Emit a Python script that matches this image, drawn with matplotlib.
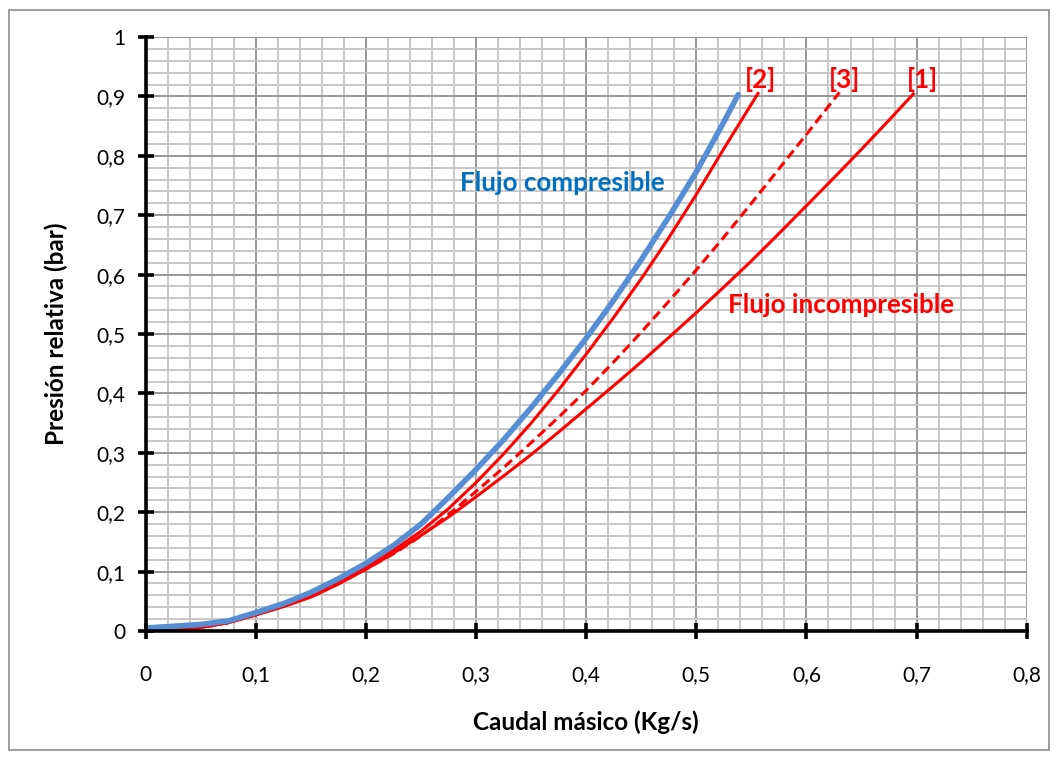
import matplotlib
matplotlib.use("Agg")
import matplotlib.pyplot as plt
from matplotlib.patches import Rectangle
from matplotlib.ticker import MultipleLocator

plt.rcParams['font.family'] = ['Lato', 'DejaVu Sans']

# Data (mass flow in kg/s, relative pressure in bar)
x_comp = [0, 0.025, 0.05, 0.075, 0.1, 0.125, 0.15, 0.175, 0.2, 0.225, 0.25, 0.275,
          0.3, 0.325, 0.35, 0.375, 0.4, 0.425, 0.45, 0.475, 0.5, 0.525, 0.538]
y_comp = [0.005, 0.008, 0.011, 0.017, 0.031, 0.046, 0.065, 0.088, 0.114, 0.144, 0.18, 0.225,
          0.272, 0.322, 0.376, 0.433, 0.493, 0.557, 0.625, 0.697, 0.773, 0.857, 0.903]

x_inc2 = [0, 0.025, 0.05, 0.075, 0.1, 0.125, 0.15, 0.175, 0.2, 0.225, 0.25, 0.275,
          0.3, 0.325, 0.35, 0.375, 0.4, 0.425, 0.45, 0.475, 0.5, 0.525, 0.55, 0.556]
y_inc2 = [0, 0.002, 0.006, 0.014, 0.028, 0.043, 0.062, 0.084, 0.108, 0.136, 0.168, 0.206,
          0.25, 0.298, 0.35, 0.406, 0.466, 0.528, 0.593, 0.662, 0.735, 0.812, 0.887, 0.905]

x_inc3 = [0, 0.025, 0.05, 0.075, 0.1, 0.125, 0.15, 0.175, 0.2, 0.225, 0.25, 0.275,
          0.3, 0.325, 0.35, 0.375, 0.4, 0.425, 0.45, 0.475, 0.5, 0.525, 0.55, 0.575, 0.6, 0.63]
y_inc3 = [0, 0.002, 0.006, 0.014, 0.027, 0.042, 0.059, 0.08, 0.104, 0.13, 0.16, 0.196,
          0.235, 0.275, 0.317, 0.36, 0.405, 0.453, 0.503, 0.555, 0.608, 0.663, 0.72, 0.778, 0.836, 0.907]

x_inc1 = [0, 0.025, 0.05, 0.075, 0.1, 0.125, 0.15, 0.175, 0.2, 0.225, 0.25, 0.275,
          0.3, 0.325, 0.35, 0.375, 0.4, 0.425, 0.45, 0.475, 0.5, 0.525, 0.55, 0.575,
          0.6, 0.625, 0.65, 0.675, 0.697]
y_inc1 = [0, 0.002, 0.006, 0.014, 0.027, 0.041, 0.057, 0.079, 0.104, 0.131, 0.161, 0.192,
          0.226, 0.261, 0.297, 0.335, 0.374, 0.413, 0.453, 0.494, 0.536, 0.579, 0.623, 0.669,
          0.716, 0.763, 0.811, 0.86, 0.904]

x_ticks = [0, 0.1, 0.2, 0.3, 0.4, 0.5, 0.6, 0.7, 0.8]
x_ticklabels = ["0", "0,1", "0,2", "0,3", "0,4", "0,5", "0,6", "0,7", "0,8"]
y_ticks = [0, 0.1, 0.2, 0.3, 0.4, 0.5, 0.6, 0.7, 0.8, 0.9, 1.0]
y_ticklabels = ["0", "0,1", "0,2", "0,3", "0,4", "0,5", "0,6", "0,7", "0,8", "0,9", "1"]

fig = plt.figure(figsize=(10.58, 7.6), dpi=100)
ax = fig.add_axes([145.7 / 1058, 1 - 631 / 760, (1026.7 - 145.7) / 1058, (631 - 37) / 760])

# outer chart border
fig.patches.append(Rectangle((9 / 1058, 10 / 760), (1049 - 9) / 1058, (750 - 10) / 760,
                             transform=fig.transFigure, fill=False,
                             edgecolor='#8c8c8c', linewidth=1.2))

ax.set_xlim(0, 0.8)
ax.set_ylim(0, 1.0)

ax.xaxis.set_minor_locator(MultipleLocator(0.02))
ax.yaxis.set_minor_locator(MultipleLocator(0.02))
ax.grid(which='minor', color='#c4c4c4', linewidth=1.3, zorder=0)
ax.grid(which='major', color='#8f8f8f', linewidth=1.3, zorder=0)
ax.set_axisbelow(True)

ax.plot(x_inc1, y_inc1, color='#ff0000', linewidth=2.2, zorder=3,
        solid_joinstyle='round')
ax.plot(x_inc3, y_inc3, color='#ff0000', linewidth=2.2, linestyle=(0, (3.2, 1.7)), zorder=3)
ax.plot(x_inc2, y_inc2, color='#ff0000', linewidth=2.2, zorder=3,
        solid_joinstyle='round')
ax.plot(x_comp, y_comp, color='#558ed5', linewidth=4.0, zorder=4,
        solid_capstyle='round', solid_joinstyle='round')

ax.set_xticks(x_ticks)
ax.set_xticklabels(x_ticklabels)
ax.set_yticks(y_ticks)
ax.set_yticklabels(y_ticklabels)

for s in ['top', 'right']:
    ax.spines[s].set_visible(False)
for s in ['left', 'bottom']:
    ax.spines[s].set_linewidth(2.6)
    ax.spines[s].set_color('black')
    ax.spines[s].set_zorder(5)

ax.tick_params(which='major', direction='inout', length=11, width=2.6, color='black',
               labelsize=15)
ax.tick_params(axis='y', pad=9)
ax.tick_params(axis='x', pad=19)
ax.tick_params(which='minor', length=0)

ax.set_xlabel("Caudal másico (Kg/s)", fontsize=17.5, fontweight='bold')
ax.set_ylabel("Presión relativa (bar)", fontsize=17.5, fontweight='bold')
ax.xaxis.set_label_coords(0.5, -0.133)
ax.yaxis.set_label_coords(-0.088, 0.5)

txt = dict(fontsize=18.7, fontweight='bold', va='baseline', zorder=6)
ax.text(0.2855, 0.74, "Flujo compresible", color='#0070c0', ha='left', **txt)
ax.text(0.529, 0.535, "Flujo incompresible", color='#ff0000', ha='left', **txt)
ax.text(0.5587, 0.9136, "[2]", color='#ff0000', ha='center', **txt)
ax.text(0.6347, 0.9136, "[3]", color='#ff0000', ha='center', **txt)
ax.text(0.7057, 0.9136, "[1]", color='#ff0000', ha='center', **txt)

fig.savefig("out.png", dpi=100)
